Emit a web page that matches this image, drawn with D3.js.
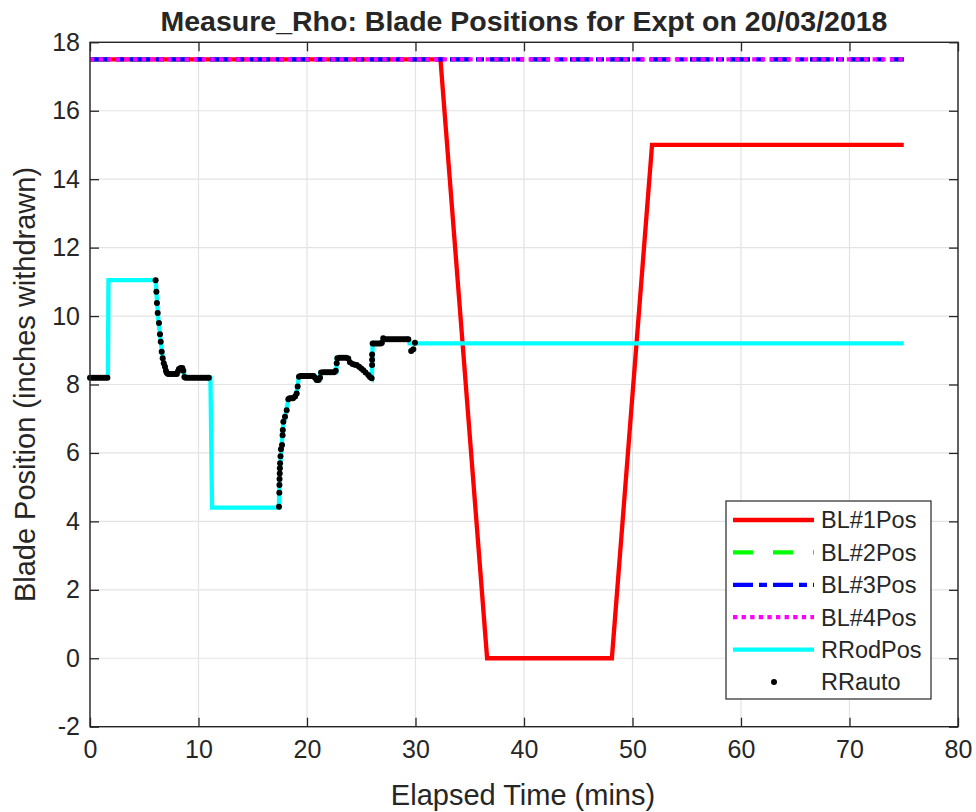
<!DOCTYPE html>
<html><head><meta charset="utf-8">
<script src="https://cdn.jsdelivr.net/npm/d3@7"></script>
<style>
body{margin:0;background:#fff}
svg{display:block}
text{font-family:"Liberation Sans",Arial,Helvetica,sans-serif;fill:#262626}
</style>
</head><body>
<svg id="c" width="976" height="812"></svg>
<script>
// ---------- data ----------
const xTicks = [0,10,20,30,40,50,60,70,80];
const yTicks = [-2,0,2,4,6,8,10,12,14,16,18];
const seriesNames = ["BL#1Pos","BL#2Pos","BL#3Pos","BL#4Pos","RRodPos","RRauto"];
const titleText = "Measure_Rho: Blade Positions for Expt on 20/03/2018";
const xLabelText = "Elapsed Time (mins)";
const yLabelText = "Blade Position (inches withdrawn)";

const bl1Pos = [[0,17.5],[32.3,17.5],[36.6,0],[48.1,0],[51.8,15],[75,15]];
const bl2Pos = [[0,17.5],[75,17.5]];
const bl3Pos = [[0,17.5],[75,17.5]];
const bl4Pos = [[0,17.5],[75,17.5]];

const rRodPos = [
  [0,8.2],[1.65,8.2],[1.7,11.05],[6.05,11.05],[6.15,10.55],[6.3,9.9],[6.5,9.3],[6.7,8.8],
  [6.9,8.52],[7.1,8.32],[8.0,8.32],[8.15,8.45],[8.6,8.47],[8.75,8.2],[11.1,8.2],[11.25,4.4],
  [17.4,4.4],[17.5,5.5],[17.65,6.15],[17.8,6.8],[18.0,7.08],[18.3,7.6],[18.8,7.6],[19.1,7.85],
  [19.25,8.25],[20.7,8.25],[20.8,8.13],[21.2,8.13],[21.25,8.36],[22.7,8.36],[22.75,8.78],
  [23.8,8.78],[24.0,8.64],[24.6,8.57],[25.2,8.42],[25.65,8.28],[25.98,8.18],[26.05,9.2],
  [26.9,9.2],[27.0,9.34],[27.1,9.32],[29.4,9.32],[29.45,9.2],[75,9.2]
];

const rrAuto = [
  [0,8.2],[0.2,8.2],[0.4,8.2],[0.6,8.2],[0.8,8.2],[1.0,8.2],[1.2,8.2],[1.4,8.2],[1.6,8.2],
  [6.05,11.05],[6.12,10.71],[6.17,10.38],[6.24,10.09],[6.36,9.8],[6.45,9.47],[6.52,9.25],
  [6.61,8.96],[6.7,8.77],[6.8,8.62],[6.91,8.52],[7.0,8.4],[7.07,8.34],[7.2,8.31],[7.4,8.31],
  [7.6,8.31],[7.8,8.31],[8.0,8.31],[8.1,8.38],[8.2,8.45],[8.35,8.48],[8.5,8.48],[8.6,8.4],
  [8.7,8.22],[8.8,8.2],[9.0,8.2],[9.2,8.2],[9.4,8.2],[9.6,8.2],[9.8,8.2],[10.0,8.2],[10.2,8.2],
  [10.4,8.2],[10.6,8.2],[10.8,8.2],[10.95,8.2],
  [17.42,4.43],[17.45,4.84],[17.46,5.06],[17.47,5.24],[17.49,5.4],[17.5,5.55],[17.52,5.7],
  [17.56,5.9],[17.6,6.11],[17.7,6.23],[17.75,6.52],[17.77,6.67],[17.82,6.91],[17.97,7.06],
  [18.13,7.25],[18.28,7.57],[18.4,7.6],[18.55,7.6],[18.71,7.6],[18.9,7.65],[19.05,7.74],
  [19.14,7.94],[19.26,8.23],[19.4,8.25],[19.6,8.25],[19.8,8.25],[20.0,8.25],[20.2,8.25],
  [20.4,8.25],[20.6,8.25],[20.74,8.2],[20.9,8.13],[21.05,8.13],[21.2,8.2],[21.3,8.35],
  [21.5,8.36],[21.7,8.36],[21.9,8.36],[22.1,8.36],[22.3,8.36],[22.5,8.36],[22.65,8.4],
  [22.74,8.62],[22.8,8.77],[23.0,8.78],[23.2,8.78],[23.4,8.78],[23.6,8.78],[23.8,8.76],
  [23.96,8.65],[24.2,8.6],[24.4,8.58],[24.58,8.57],[24.8,8.52],[25.0,8.47],[25.19,8.42],
  [25.4,8.35],[25.65,8.28],[25.8,8.22],[25.96,8.18],[26.0,8.57],[26.0,8.72],[26.0,8.88],
  [26.05,9.2],[26.2,9.2],[26.4,9.2],[26.6,9.2],[26.8,9.2],[26.9,9.22],[27.03,9.35],[27.2,9.32],
  [27.4,9.32],[27.6,9.32],[27.8,9.32],[28.0,9.32],[28.2,9.32],[28.4,9.32],[28.6,9.32],
  [28.8,9.32],[29.0,9.32],[29.2,9.32],[29.34,9.32],[29.6,8.98],[29.8,9.03],[29.95,9.22]
];

// ---------- layout ----------
const L = 90, R = 958, T = 42.3, B = 726.7;
const svg = d3.select("#c");
const x = d3.scaleLinear().domain([0,80]).range([L,R]);
const y = d3.scaleLinear().domain([-2,18]).range([B,T]);
const axisColor = "#262626";
const fmt = d => String(d);

// grid
const grid = svg.append("g");
grid.selectAll(".gx").data(xTicks).enter().append("line")
  .attr("x1",d=>x(d)).attr("x2",d=>x(d)).attr("y1",T).attr("y2",B)
  .attr("stroke","#e3e3e3").attr("stroke-width",1.2);
grid.selectAll(".gy").data(yTicks).enter().append("line")
  .attr("x1",L).attr("x2",R).attr("y1",d=>y(d)).attr("y2",d=>y(d))
  .attr("stroke","#e3e3e3").attr("stroke-width",1.2);

// lines
const line = d3.line().x(d=>x(d[0])).y(d=>y(d[1]));
const styles = [
  {color:"#ff0000", dash:null},
  {color:"#00ff00", dash:"20,20"},
  {color:"#0000ff", dash:"20,6,8,6"},
  {color:"#ff00ff", dash:"4.3,4.3"},
  {color:"#00ffff", dash:null}
];
const lineData = [bl1Pos, bl2Pos, bl3Pos, bl4Pos, rRodPos];
const plot = svg.append("g");
lineData.forEach((d,i)=>{
  plot.append("path").datum(d).attr("d",line)
    .attr("fill","none").attr("stroke",styles[i].color).attr("stroke-width",4.3)
    .attr("stroke-linejoin","miter").attr("stroke-linecap","butt")
    .attr("stroke-dasharray",styles[i].dash);
});
plot.selectAll("circle.rr").data(rrAuto).enter().append("circle")
  .attr("cx",d=>x(d[0])).attr("cy",d=>y(d[1])).attr("r",3).attr("fill","#000");

// axes
function styleAxis(g){
  g.select(".domain").remove();
  g.selectAll(".tick line").attr("stroke",axisColor).attr("stroke-width",1.3);
  g.selectAll(".tick text").style("font-size","25px").attr("fill",axisColor);
}
svg.append("g").attr("transform",`translate(0,${B})`)
  .call(d3.axisBottom(x).tickValues(xTicks).tickSize(-9).tickPadding(14).tickFormat(fmt))
  .call(styleAxis);
svg.append("g").attr("transform",`translate(0,${T})`)
  .call(d3.axisTop(x).tickValues(xTicks).tickSize(-9).tickFormat(""))
  .call(styleAxis);
svg.append("g").attr("transform",`translate(${L},0)`)
  .call(d3.axisLeft(y).tickValues(yTicks).tickSize(-9).tickPadding(10).tickFormat(fmt))
  .call(styleAxis);
svg.append("g").attr("transform",`translate(${R},0)`)
  .call(d3.axisRight(y).tickValues(yTicks).tickSize(-9).tickFormat(""))
  .call(styleAxis);
svg.append("rect").attr("x",L).attr("y",T).attr("width",R-L).attr("height",B-T)
  .attr("fill","none").attr("stroke",axisColor).attr("stroke-width",1.4);

// labels
svg.append("text").attr("x",(L+R)/2).attr("y",31).attr("text-anchor","middle")
  .style("font-size","28.5px").style("font-weight","bold").attr("fill","#000").text(titleText);
svg.append("text").attr("x",(L+R)/2 - 1).attr("y",805).attr("text-anchor","middle")
  .style("font-size","29px").text(xLabelText);
svg.append("text").attr("transform",`translate(35,${(T+B)/2}) rotate(-90)`).attr("text-anchor","middle")
  .style("font-size","29px").text(yLabelText);

// legend
const lg = svg.append("g");
lg.append("rect").attr("x",726).attr("y",501).attr("width",205).attr("height",198)
  .attr("fill","#fff").attr("stroke",axisColor).attr("stroke-width",1.2);
const rowY = i => 520 + i*32.4;
seriesNames.forEach((name,i)=>{
  const yy = rowY(i);
  if(i<5){
    lg.append("line").attr("x1",733).attr("x2",814).attr("y1",yy).attr("y2",yy)
      .attr("stroke",styles[i].color).attr("stroke-width",4.3)
      .attr("stroke-dasharray",styles[i].dash);
  } else {
    lg.append("circle").attr("cx",774).attr("cy",yy).attr("r",3).attr("fill","#000");
  }
  lg.append("text").attr("x",821).attr("y",yy).attr("dy","0.36em")
    .style("font-size","23.5px").attr("fill","#000").text(name);
});
</script>
</body></html>
